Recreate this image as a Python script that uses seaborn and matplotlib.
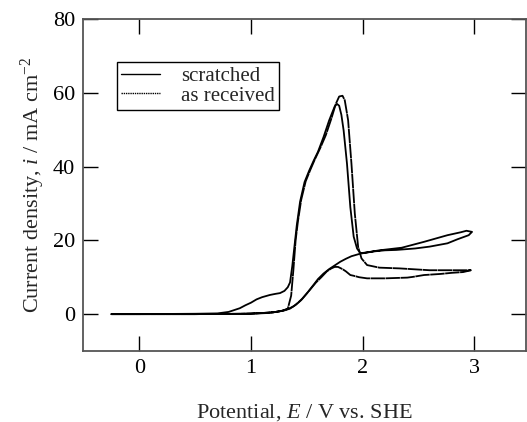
import numpy as np
import pandas as pd
import matplotlib
matplotlib.use("Agg")
import matplotlib.pyplot as plt
import seaborn as sns

# scratched: forward scan (pre-peak wave, peak ~57) and reverse scan
scr_fwd_E = [-0.25, 0.0, 0.5, 0.7, 0.8, 0.9, 0.95, 1.0, 1.05, 1.1, 1.17, 1.22, 1.26, 1.3, 1.33, 1.35,
             1.37, 1.39, 1.41, 1.44, 1.48, 1.52, 1.56, 1.6, 1.65, 1.7, 1.73, 1.75, 1.77, 1.79, 1.81,
             1.83, 1.86, 1.89, 1.92, 1.95, 1.98, 2.05, 2.15, 2.35, 2.55, 2.76, 2.88, 2.93, 2.98]
scr_fwd_i = [0, 0, 0.1, 0.2, 0.6, 1.6, 2.4, 3.1, 4.0, 4.6, 5.2, 5.5, 5.7, 6.3, 7.3, 8.6,
             13, 18.5, 24, 30.5, 35.8, 38.8, 41.5, 44, 48, 52.5, 54.8, 56.3, 57, 56.5, 54,
             49.8, 40.8, 29, 21, 17.8, 16.5, 16.8, 17.3, 18, 19.6, 21.4, 22.2, 22.6, 22.3]
scr_rev_E = [2.98, 2.95, 2.85, 2.76, 2.6, 2.47, 2.3, 2.2, 2.1, 1.98, 1.9, 1.85, 1.8, 1.75, 1.7,
             1.65, 1.6, 1.57, 1.5, 1.45, 1.42, 1.38, 1.34, 1.3, 1.25, 1.15, 1.0, 0.5, -0.25]
scr_rev_i = [22.3, 21.4, 20.3, 19.2, 18.3, 17.8, 17.4, 17.3, 17.0, 16.4, 15.7, 15.0, 14.2, 13.2, 12.2,
             11.0, 9.5, 8.3, 5.6, 3.8, 3.0, 2.1, 1.5, 1.1, 0.7, 0.3, 0.1, 0, 0]

# as received: forward scan (peak ~59) and reverse scan
rec_fwd_E = [-0.25, 0.5, 0.9, 1.1, 1.2, 1.28, 1.33, 1.36, 1.38, 1.40, 1.42, 1.45, 1.49, 1.53, 1.57,
             1.62, 1.67, 1.72, 1.76, 1.79, 1.82, 1.84, 1.87, 1.90, 1.93, 1.96, 1.99, 2.04, 2.15,
             2.33, 2.6, 2.8, 2.97]
rec_fwd_i = [0, 0, 0.1, 0.3, 0.5, 0.9, 1.5, 5, 12, 20, 25, 31, 36, 39, 41.8,
             45, 48.5, 53, 57, 59, 59.2, 58, 52.6, 40.8, 27.3, 18.2, 15.1, 13.3, 12.6,
             12.4, 11.9, 11.9, 11.9]
rec_rev_E = [2.97, 2.9, 2.8, 2.7, 2.55, 2.45, 2.4, 2.3, 2.2, 2.1, 2.04, 1.97, 1.92, 1.89, 1.85,
             1.82, 1.78, 1.75, 1.72, 1.68, 1.63, 1.58, 1.52, 1.46, 1.4, 1.35, 1.3, 1.2, 1.0, 0.5, -0.25]
rec_rev_i = [11.9, 11.4, 11.2, 10.9, 10.6, 10.1, 9.9, 9.8, 9.7, 9.7, 9.7, 10.0, 10.4, 10.6, 11.6,
             12.2, 12.8, 12.8, 12.4, 11.6, 10.0, 8.5, 6.3, 4.2, 2.5, 1.5, 1.0, 0.5, 0.1, 0, 0]

samples = ["scratched", "as received"]

df = pd.concat([
    pd.DataFrame({"E": scr_fwd_E + scr_rev_E, "i": scr_fwd_i + scr_rev_i, "sample": samples[0]}),
    pd.DataFrame({"E": rec_fwd_E + rec_rev_E, "i": rec_fwd_i + rec_rev_i, "sample": samples[1]}),
], ignore_index=True)

sns.set_style("ticks")
plt.rcParams["font.family"] = ["Liberation Serif", "DejaVu Serif"]
plt.rcParams["mathtext.fontset"] = "custom"
plt.rcParams["mathtext.rm"] = "Liberation Serif"
plt.rcParams["mathtext.it"] = "Liberation Serif:italic"

fig = plt.figure(figsize=(5.27, 4.22), dpi=100)
ax = fig.add_axes([0.1584, 0.1682, 0.8390, 0.7867])

sns.lineplot(data=df, x="E", y="i", hue="sample", style="sample", sort=False, estimator=None,
             palette={"scratched": "black", "as received": "black"},
             dashes={"scratched": "", "as received": (8, 0.3)},
             linewidth=1.3, ax=ax)

ax.set_xlim(-0.5, 3.46)
ax.set_ylim(-10, 80)
ax.set_xticks([0, 1, 2, 3])
ax.set_yticks([0, 20, 40, 60, 80])
ax.tick_params(direction="in", length=11, width=1, top=True, right=True, labelsize=16,
               colors="black", pad=6)
for s in ax.spines.values():
    s.set_color("#555555")
    s.set_linewidth(1.3)

ax.set_xlabel("Potential, $E$ / V vs. SHE", fontsize=16, labelpad=17)
ax.set_ylabel("Current density, $i$ / mA cm$^{-2}$", fontsize=16, labelpad=4)

leg = ax.legend(loc="upper left", bbox_to_anchor=(0.075, 0.87), borderaxespad=0,
                fontsize=15, frameon=True, fancybox=False, edgecolor="black",
                handlelength=1.9, handletextpad=1.0, borderpad=0.2, labelspacing=0.0)
leg.get_frame().set_linewidth(1.0)
leg.get_frame().set_alpha(1)
leg_lines = leg.get_lines()
leg_lines[0].set_linewidth(1.0)
leg_lines[1].set_linewidth(1.0)
leg_lines[1].set_linestyle((0, (1, 0.6)))

fig.savefig("out.png", dpi=100)
